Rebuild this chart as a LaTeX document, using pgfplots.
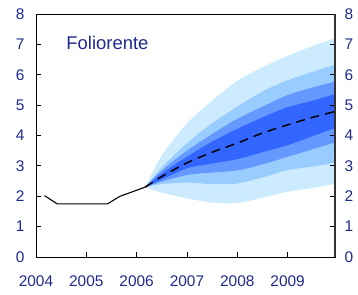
\documentclass[border=0pt]{standalone}
\usepackage{fontspec}
\setmainfont{Liberation Sans}
\usepackage{pgfplots}
\pgfplotsset{compat=1.18}
\usepackage{pgfplotstable}
\usepgfplotslibrary{fillbetween}
\definecolor{navy}{RGB}{31,42,140}
\definecolor{c1}{RGB}{204,235,255}
\definecolor{c2}{RGB}{153,204,255}
\definecolor{c3}{RGB}{102,153,255}
\definecolor{c4}{RGB}{51,102,255}

\pgfplotstableread{
x       ot    t2    t3    t4    md    b4    b3    b2    ob
2006.17 2.30  2.30  2.30  2.30  2.30  2.30  2.30  2.30  2.30
2006.5  3.35  2.95  2.85  2.75  2.65  2.55  2.48  2.40  2.12
2007.0  4.40  3.75  3.50  3.30  3.10  2.92  2.70  2.45  1.93
2007.5  5.15  4.40  4.05  3.80  3.45  3.08  2.78  2.40  1.79
2008.0  5.80  4.95  4.55  4.22  3.75  3.22  2.85  2.42  1.78
2008.5  6.25  5.45  4.95  4.60  4.08  3.45  3.05  2.62  1.95
2009.0  6.62  5.82  5.33  4.93  4.35  3.68  3.30  2.86  2.15
2009.5  6.95  6.10  5.58  5.15  4.60  3.98  3.55  2.98  2.27
2009.92 7.19  6.32  5.77  5.35  4.78  4.23  3.76  3.10  2.40
}\fan

\pgfplotstableread{
x       y
2004.17 2.02
2004.42 1.75
2005.42 1.75
2005.67 2.00
2005.92 2.15
2006.17 2.30
}\hist

\begin{document}
\begin{tikzpicture}
\pgfplotsset{base/.style={
  width=299bp, height=243bp, scale only axis,
  xmin=2004, xmax=2009.94, ymin=0, ymax=8,
  ytick={0,...,8},
  tick align=inside,
  major tick length=5bp,
  tick style={black, line width=0.8pt},
  ticklabel style={font=\fontsize{15.5}{18}\selectfont, text=navy},
  /pgf/number format/assume math mode=true,
  /pgf/number format/1000 sep={},
}}
\begin{axis}[base,
  axis line style={line width=1pt},
  xtick={2004,...,2009},
  xtick pos=bottom, ytick pos=left,
  yticklabel style={xshift=-8bp},
  xticklabel style={yshift=-15bp},
]
\addplot[name path=ot, draw=none, smooth, forget plot] table[x=x,y=ot]{\fan};
\addplot[name path=t2, draw=none, smooth, forget plot] table[x=x,y=t2]{\fan};
\addplot[name path=t3, draw=none, smooth, forget plot] table[x=x,y=t3]{\fan};
\addplot[name path=t4, draw=none, smooth, forget plot] table[x=x,y=t4]{\fan};
\addplot[name path=b4, draw=none, smooth, forget plot] table[x=x,y=b4]{\fan};
\addplot[name path=b3, draw=none, smooth, forget plot] table[x=x,y=b3]{\fan};
\addplot[name path=b2, draw=none, smooth, forget plot] table[x=x,y=b2]{\fan};
\addplot[name path=ob, draw=none, smooth, forget plot] table[x=x,y=ob]{\fan};
\addplot[c1, draw=none] fill between[of=ot and ob];
\addplot[c2, draw=none] fill between[of=t2 and b2];
\addplot[c3, draw=none] fill between[of=t3 and b3];
\addplot[c4, draw=none] fill between[of=t4 and b4];
\addplot[black, line width=1.5pt, smooth, dash pattern=on 9bp off 6bp] table[x=x,y=md]{\fan};
\addplot[black, line width=1.1pt] table[x=x,y=y]{\hist};
\node[anchor=west, font=\fontsize{18.5}{22}\selectfont, text=navy] at (rel axis cs:0.09,0.88) {Foliorente};
\end{axis}
\begin{axis}[base,
  axis x line=none, axis y line*=right,
  axis line style={line width=1.6pt, black!80},
  ytick pos=right, yticklabel pos=right,
  yticklabel style={xshift=6bp},
]
\end{axis}
\path ([shift={(-36bp,-38bp)}]current axis.south west) rectangle ([shift={(23bp,14bp)}]current axis.north east);
\end{tikzpicture}
\end{document}
